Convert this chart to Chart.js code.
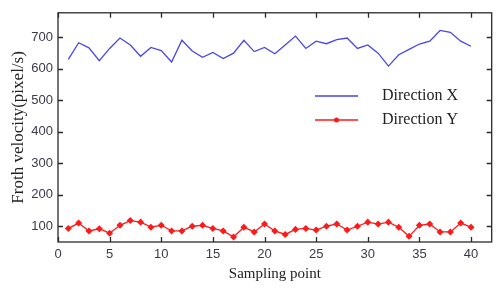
<!DOCTYPE html>
<html>
<head>
<meta charset="utf-8">
<script src="https://cdn.jsdelivr.net/npm/chart.js@4.4.0/dist/chart.umd.min.js"></script>
<style>
  html, body { margin: 0; padding: 0; background: #fff; }
  #wrap { width: 497px; height: 287px; position: relative; }
</style>
</head>
<body>
<div id="wrap"><canvas id="chart"></canvas></div>
<script>
"use strict";
const samplePoints = [];
for (let i = 1; i <= 40; i++) samplePoints.push(i);
const directionX = [629, 682, 666, 625, 664, 697, 675, 639, 667, 657,
  621, 690, 656, 636, 651, 632, 649, 690, 654, 667,
  647, 675, 703, 664, 687, 679, 692, 697, 664, 675,
  649, 608, 644, 661, 678, 687, 721, 715, 687, 671];
const directionY = [93, 110, 85, 92, 78, 103, 118, 113, 97, 103,
  85, 85, 100, 103, 93, 85, 66, 97, 82, 107,
  85, 74, 90, 93, 88, 100, 107, 88, 100, 113,
  107, 113, 97, 68, 103, 107, 82, 82, 110, 97];
const xTicks = [0, 5, 10, 15, 20, 25, 30, 35, 40];
const yTicks = [100, 200, 300, 400, 500, 600, 700];

const axisColor = "#2b2b2b";
const tickColor = "#3a3a4a";

// matlab style box with inward ticks, plus legend inside the plot
const boxPlugin = {
  id: "box",
  afterDraw(chart) {
    const ctx = chart.ctx;
    const a = chart.chartArea;
    const xs = chart.scales.x, ys = chart.scales.y;
    ctx.save();
    ctx.strokeStyle = axisColor;
    ctx.lineWidth = 1.3;
    ctx.strokeRect(a.left, a.top, a.right - a.left, a.bottom - a.top);
    ctx.beginPath();
    xTicks.forEach(v => {
      const px = Math.round(xs.getPixelForValue(v)) + 0.5;
      ctx.moveTo(px, a.bottom); ctx.lineTo(px, a.bottom - 5);
      ctx.moveTo(px, a.top); ctx.lineTo(px, a.top + 5);
    });
    yTicks.forEach(v => {
      const py = Math.round(ys.getPixelForValue(v)) + 0.5;
      ctx.moveTo(a.left, py); ctx.lineTo(a.left + 5, py);
      ctx.moveTo(a.right, py); ctx.lineTo(a.right - 5, py);
    });
    ctx.stroke();

    // legend
    const items = [
      { label: "Direction X", color: "#4646ee", marker: false, y: 96 },
      { label: "Direction Y", color: "#ff1a1a", marker: true, y: 120 }
    ];
    ctx.font = "16px 'Liberation Serif', serif";
    ctx.textBaseline = "middle";
    items.forEach(it => {
      ctx.strokeStyle = it.color;
      ctx.lineWidth = 1.3;
      ctx.beginPath();
      ctx.moveTo(315, it.y); ctx.lineTo(358, it.y);
      ctx.stroke();
      if (it.marker) {
        ctx.fillStyle = it.color;
        ctx.beginPath();
        ctx.arc(336.5, it.y, 2.5, 0, Math.PI * 2);
        ctx.fill();
      }
      ctx.fillStyle = "#222";
      ctx.fillText(it.label, 382, it.y);
    });
    ctx.restore();
  }
};

new Chart(document.querySelector("#chart"), {
  type: "line",
  data: {
    labels: samplePoints,
    datasets: [
      {
        label: "Direction X",
        data: directionX,
        borderColor: "#4646ee",
        borderWidth: 1.3,
        pointRadius: 0,
        tension: 0,
      },
      {
        label: "Direction Y",
        data: directionY,
        borderColor: "#ff1a1a",
        backgroundColor: "#ff1a1a",
        borderWidth: 1.3,
        pointRadius: 2.6,
        pointStyle: "rectRot",
        tension: 0,
      },
    ],
  },
  options: {
    responsive: true,
    maintainAspectRatio: false,
    animation: false,
    layout: { padding: { top: 7, right: 2, left: 0, bottom: 0 } },
    plugins: {
      legend: { display: false },
      tooltip: { enabled: false },
    },
    scales: {
      x: {
        type: "linear",
        min: 0,
        max: 42,
        afterBuildTicks: s => { s.ticks = xTicks.map(v => ({ value: v })); },
        afterFit: s => { s.height = 45; },
        grid: { display: false, drawTicks: false },
        border: { display: false },
        ticks: {
          color: tickColor,
          padding: 5,
          font: { family: "'Liberation Sans', Arial", size: 13 },
        },
        title: {
          display: true,
          text: "Sampling point",
          color: "#222",
          padding: { top: 0 },
          font: { family: "'Liberation Serif', serif", size: 15 },
        },
      },
      y: {
        min: 50,
        max: 777,
        afterBuildTicks: s => { s.ticks = yTicks.map(v => ({ value: v })); },
        afterFit: s => { s.width = 58; },
        grid: { display: false, drawTicks: false },
        border: { display: false },
        ticks: {
          color: tickColor,
          padding: 5,
          font: { family: "'Liberation Sans', Arial", size: 13 },
        },
        title: {
          display: true,
          text: "Froth velocity(pixel/s)",
          color: "#222",
          padding: { top: 8, bottom: 0 },
          font: { family: "'Liberation Serif', serif", size: 17 },
        },
      },
    },
  },
  plugins: [boxPlugin],
});
</script>
</body>
</html>
